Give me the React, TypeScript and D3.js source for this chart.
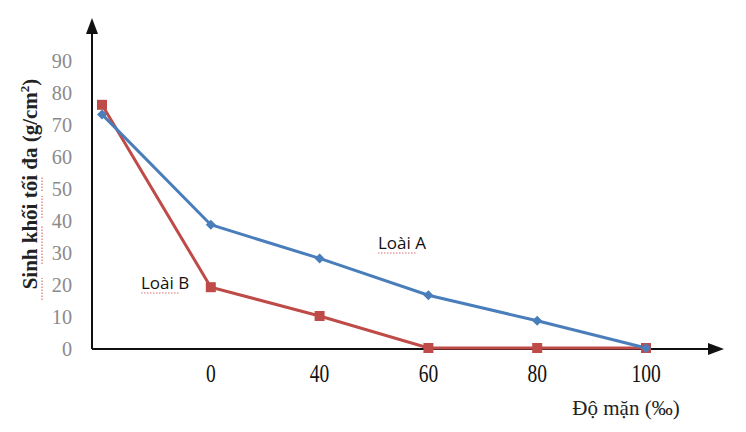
import React from "react";
import * as d3 from "d3";

const categories = ["", "0", "40", "60", "80", "100"];
const loaiA = [73, 38.5, 28, 16.5, 8.5, 0];
const loaiB = [76, 19, 10, 0, 0, 0];
const yTicks = [0, 10, 20, 30, 40, 50, 60, 70, 80, 90];

const W = 746;
const H = 432;

export default function App() {
  const x = d3.scalePoint<string>().domain(categories).range([102, 646]);
  const y = d3.scaleLinear().domain([0, 90]).range([348, 60]);
  const line = d3
    .line<number>()
    .x((_, i) => x(categories[i]) as number)
    .y((d) => y(d));
  const blue = "#4A7EBB";
  const red = "#BE4B48";
  const serif = "'Liberation Serif', 'Times New Roman', serif";
  const sans = "'Open Sans', 'Liberation Sans', sans-serif";
  const diamond = d3.symbol(d3.symbolSquare, 50)();
  const axisY = 349;
  const axisX = 92;
  return (
    <svg
      width={W}
      height={H}
      style={{ position: "absolute", left: 0, top: 0, background: "#fff" }}
    >
      <rect width={W} height={H} fill="#fff" />
      {/* axes */}
      <line x1={axisX} y1={axisY} x2={axisX} y2={30} stroke="#111" strokeWidth={2} />
      <path d={`M${axisX - 6},34 L${axisX},18 L${axisX + 6},34 Z`} fill="#111" />
      <line x1={axisX} y1={axisY} x2={712} y2={axisY} stroke="#111" strokeWidth={2} />
      <path d={`M708,${axisY - 6} L724,${axisY} L708,${axisY + 6} Z`} fill="#111" />

      {/* y tick labels */}
      {yTicks.map((t) => (
        <text
          key={t}
          transform={`translate(72,${y(t)}) scale(0.92,1)`}
          dy="0.35em"
          textAnchor="end"
          fontFamily={serif}
          fontSize={22}
          fill="#8a8a8a"
        >
          {t}
        </text>
      ))}

      {/* x tick labels */}
      {categories.map((c) => (
        <text
          key={c}
          transform={`translate(${x(c)},373) scale(0.78,1)`}
          dy="0.35em"
          textAnchor="middle"
          fontFamily={serif}
          fontSize={25}
          fill="#111"
        >
          {c}
        </text>
      ))}

      {/* x axis title */}
      <text x={626} y={408} dy="0.35em" textAnchor="middle" fontFamily={serif} fontSize={21} fill="#222">
        Độ mặn (‰)
      </text>

      {/* y axis title */}
      <text
        transform={`translate(30,184) rotate(-90)`}
        dy="0.35em"
        textAnchor="middle"
        fontFamily={serif}
        fontSize={21}
        fontWeight="bold"
        fill="#222"
      >
        Sinh khối tối đa (g/cm
        <tspan fontSize={13} dy="-8">2</tspan>
        <tspan dy="8">)</tspan>
      </text>
      <line x1={42} y1={300} x2={42} y2={278} stroke="#e07070" strokeWidth={1.2} strokeDasharray="1.5 1.5" />
      <line x1={42} y1={264} x2={42} y2={226} stroke="#e07070" strokeWidth={1.2} strokeDasharray="1.5 1.5" />
      <line x1={42} y1={218} x2={42} y2={196} stroke="#e07070" strokeWidth={1.2} strokeDasharray="1.5 1.5" />
      <line x1={42} y1={191} x2={42} y2={176} stroke="#e07070" strokeWidth={1.2} strokeDasharray="1.5 1.5" />

      {/* series */}
      <path d={line(loaiB) || ""} fill="none" stroke={red} strokeWidth={3} />
      <path d={line(loaiA) || ""} fill="none" stroke={blue} strokeWidth={3} />
      {loaiB.map((v, i) => (
        <rect
          key={"b" + i}
          x={(x(categories[i]) as number) - 5}
          y={y(v) - 5}
          width={10}
          height={10}
          fill={red}
        />
      ))}
      {loaiA.map((v, i) => (
        <path
          key={"a" + i}
          d={diamond || ""}
          transform={`translate(${x(categories[i])},${y(v)}) rotate(45)`}
          fill={blue}
        />
      ))}

      {/* labels */}
      <text x={378} y={243} dy="0.35em" fontFamily={sans} fontSize={17} fill="#111">
        Loài A
      </text>
      <line x1={378} y1={253} x2={416} y2={253} stroke="#e07070" strokeWidth={1.2} strokeDasharray="1.5 1.5" />
      <text x={141} y={283} dy="0.35em" fontFamily={sans} fontSize={17} fill="#111">
        Loài B
      </text>
      <line x1={141} y1={293} x2={179} y2={293} stroke="#e07070" strokeWidth={1.2} strokeDasharray="1.5 1.5" />
    </svg>
  );
}
